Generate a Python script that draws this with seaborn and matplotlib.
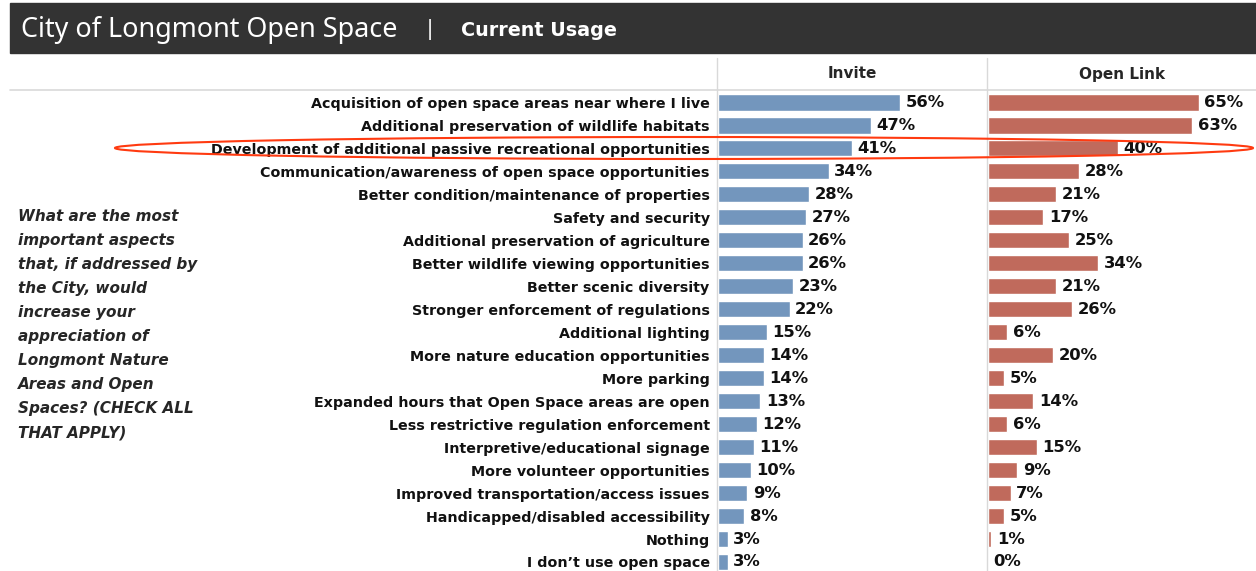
import matplotlib
matplotlib.use("Agg")
import matplotlib.pyplot as plt
import seaborn as sns
import pandas as pd
from matplotlib.patches import Ellipse, Rectangle
from matplotlib.lines import Line2D

categories = [
    "Acquisition of open space areas near where I live",
    "Additional preservation of wildlife habitats",
    "Development of additional passive recreational opportunities",
    "Communication/awareness of open space opportunities",
    "Better condition/maintenance of properties",
    "Safety and security",
    "Additional preservation of agriculture",
    "Better wildlife viewing opportunities",
    "Better scenic diversity",
    "Stronger enforcement of regulations",
    "Additional lighting",
    "More nature education opportunities",
    "More parking",
    "Expanded hours that Open Space areas are open",
    "Less restrictive regulation enforcement",
    "Interpretive/educational signage",
    "More volunteer opportunities",
    "Improved transportation/access issues",
    "Handicapped/disabled accessibility",
    "Nothing",
    "I don\u2019t use open space",
]
invite = [56, 47, 41, 34, 28, 27, 26, 26, 23, 22, 15, 14, 14, 13, 12, 11, 10, 9, 8, 3, 3]
open_link = [65, 63, 40, 28, 21, 17, 25, 34, 21, 26, 6, 20, 5, 14, 6, 15, 9, 7, 5, 1, 0]
series_names = ["Invite", "Open Link"]
title_main = "City of Longmont Open Space"
title_sub = "Current Usage"
question = ("What are the most\nimportant aspects\nthat, if addressed by\nthe City, would\n"
            "increase your\nappreciation of\nLongmont Nature\nAreas and Open\nSpaces? (CHECK ALL\nTHAT APPLY)")

sns.set_style("white")
plt.rcParams['font.family'] = ['DejaVu Sans']
BOLD = dict(fontweight="bold", family=["DejaVu Sans"])

W, H = 1256, 571
fig = plt.figure(figsize=(W / 100, H / 100), dpi=100)

def fx(x):
    return x / W

def fy(y):
    return 1 - y / H

# header bar
fig.add_artist(Rectangle((fx(10), fy(53)), fx(1246), 50 / H, transform=fig.transFigure,
                         color="#333333", zorder=0))
fig.text(fx(21), fy(30), title_main, color="white", fontsize=19.4, va="center", ha="left",
         family=["Noto Sans", "DejaVu Sans"])
fig.text(fx(430), fy(30), "|", color="white", fontsize=16, va="center", ha="center",
         family=["Noto Sans", "DejaVu Sans"])
fig.text(fx(461), fy(31), title_sub, color="white", fontsize=13.8, va="center", ha="left",
         **BOLD)

# grid lines
fig.add_artist(Line2D([fx(10), 1], [fy(90), fy(90)], transform=fig.transFigure,
                      color="#d9d9d9", lw=1.2))
for xv in (717, 987):
    fig.add_artist(Line2D([fx(xv), fx(xv)], [fy(58), 0], transform=fig.transFigure,
                          color="#d9d9d9", lw=1))

# column headers
fig.text(fx(852), fy(74), series_names[0], fontsize=11, ha="center", va="center", **BOLD)
fig.text(fx(1122), fy(74), series_names[1], fontsize=11, ha="center", va="center", **BOLD)

# question text
fig.text(fx(18), fy(209), question, fontsize=11, style="italic",
         ha="left", va="top", linespacing=1.75, **BOLD)

colors = ["#7396bd", "#c06a5c"]
row_top, row_bottom = 91, 571
ylo = -0.5
yhi = 20 + (row_bottom - 562) / 22.95
xmax = 82.6

for i, (vals, xl, xr) in enumerate([(invite, 718, 987), (open_link, 988, 1256)]):
    ax = fig.add_axes([fx(xl), fy(row_bottom), fx(xr - xl), (row_bottom - row_top) / H])
    df = pd.DataFrame({"cat": categories, "val": vals})
    sns.barplot(data=df, x="val", y="cat", orient="h", color=colors[i], saturation=1,
                width=0.70, ax=ax)
    ax.set_xlim(0, xmax)
    ax.set_ylim(yhi, ylo)
    ax.set_xlabel("")
    ax.set_ylabel("")
    ax.set_xticks([])
    for s in ax.spines.values():
        s.set_visible(False)
    labels = [f"{v}%" for v in vals]
    ax.bar_label(ax.containers[0], labels=labels, padding=4, fontsize=11.8,
                 color="#111111", **BOLD)
    if i == 0:
        ax.tick_params(axis="y", length=0, pad=6, labelsize=10.3)
        for t in ax.get_yticklabels():
            t.set_fontweight("bold")
            t.set_color("#111111")
    else:
        ax.set_yticks([])
    ax.patch.set_alpha(0)

# highlight ellipse
fig.add_artist(Ellipse((fx(684), fy(148)), fx(1138), 22 / H, transform=fig.transFigure,
                       fill=False, edgecolor="#ff3a10", lw=1.5, zorder=10))

fig.savefig("out.png", dpi=100)
